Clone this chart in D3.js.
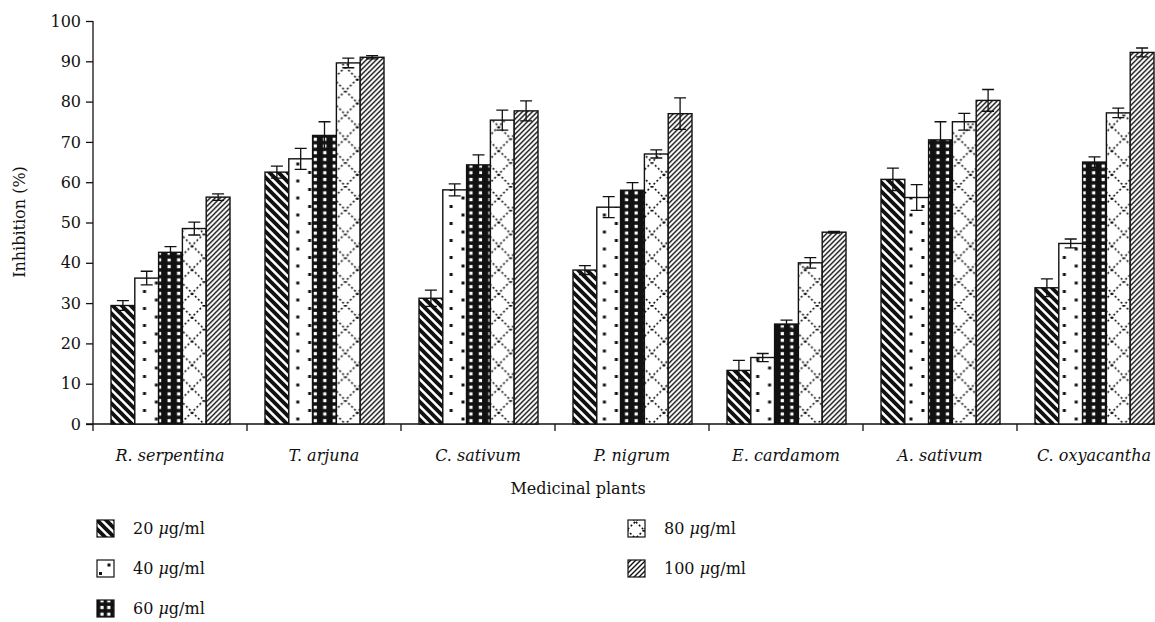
<!DOCTYPE html>
<html>
<head>
<meta charset="utf-8">
<script src="https://cdn.jsdelivr.net/npm/d3@7"></script>
<style>
body { margin: 0; background: #fff; }
</style>
</head>
<body>
<svg id="chart" width="1155" height="622"></svg>
<script>
// plants and concentrations
var plants = ['R. serpentina', 'T. arjuna', 'C. sativum', 'P. nigrum', 'E. cardamom', 'A. sativum', 'C. oxyacantha'];
var doses = ['20', '40', '60', '80', '100'];

// mean inhibition (%) per dose, one value per plant
var inh20  = [29.4, 62.5, 31.2, 38.2, 13.3, 60.7, 33.8];
var inh40  = [36.2, 65.8, 58.1, 53.8, 16.5, 56.2, 44.8];
var inh60  = [42.6, 71.6, 64.3, 58.0, 24.8, 70.5, 65.0];
var inh80  = [48.5, 89.6, 75.4, 67.0, 40.0, 75.0, 77.2];
var inh100 = [56.3, 91.0, 77.7, 77.0, 47.6, 80.3, 92.2];

// error bars (+/-)
var err20  = [1.2, 1.5, 2.0, 1.1, 2.5, 2.8, 2.2];
var err40  = [1.7, 2.6, 1.5, 2.6, 1.0, 3.2, 1.1];
var err60  = [1.4, 3.4, 2.5, 1.9, 1.0, 4.5, 1.3];
var err80  = [1.6, 1.2, 2.5, 1.0, 1.3, 2.1, 1.2];
var err100 = [0.8, 0.4, 2.5, 3.9, 0.2, 2.7, 1.1];

var yTicks = [0, 10, 20, 30, 40, 50, 60, 70, 80, 90, 100];

var values = [inh20, inh40, inh60, inh80, inh100];
var errors = [err20, err40, err60, err80, err100];

var rows = [];
plants.forEach(function(p, i){
	doses.forEach(function(d, j){
		rows.push({plant: p, pi: i, dose: d, value: values[j][i], err: errors[j][i]});
	});
});

var FONT = "DejaVu Serif";
var FS = '16px';

var svg = d3.select('#chart').style('font-family', FONT);

//scales
var x0 = d3.scaleBand().domain(plants).range([93, 1171]);
var x1 = d3.scaleBand().domain(doses).range([18, 137]);
var y = d3.scaleLinear().domain([0, 100]).range([424, 21]);
var bw = x1.bandwidth();

//patterns, one set per group so they line up with each bar
var defs = svg.append('defs');

function makePatterns(key, ox, oy, big){
	var p20 = defs.append('pattern').attr('id', 'pat20_' + key).attr('patternUnits', 'userSpaceOnUse')
		.attr('x', ox['20']).attr('y', oy).attr('width', 9).attr('height', 9);
	p20.append('rect').attr('width', 9).attr('height', 9).attr('fill', '#fff');
	p20.append('path').attr('d', 'M-3,-3 L12,12 M-3,6 L3,12 M6,-3 L12,3')
		.attr('stroke', '#111').attr('stroke-width', 3.8);

	var p40 = defs.append('pattern').attr('id', 'pat40_' + key).attr('patternUnits', 'userSpaceOnUse')
		.attr('x', ox['40']).attr('y', oy).attr('width', big).attr('height', 17);
	p40.append('rect').attr('width', big).attr('height', 17).attr('fill', '#fff');
	p40.append('rect').attr('x', big / 2 - 1.5).attr('y', 2).attr('width', 3).attr('height', 3).attr('fill', '#111');
	p40.append('rect').attr('x', -1.5).attr('y', 10.5).attr('width', 3).attr('height', 3).attr('fill', '#111');
	p40.append('rect').attr('x', big - 1.5).attr('y', 10.5).attr('width', 3).attr('height', 3).attr('fill', '#111');

	var w60 = big / 2.5;
	var p60 = defs.append('pattern').attr('id', 'pat60_' + key).attr('patternUnits', 'userSpaceOnUse')
		.attr('x', ox['60']).attr('y', oy).attr('width', w60).attr('height', 6.7);
	p60.append('rect').attr('width', w60).attr('height', 6.7).attr('fill', '#111');
	p60.append('rect').attr('x', 1.6).attr('y', 1.8).attr('width', 3.2).attr('height', 3.2).attr('fill', '#fff');

	var p80 = defs.append('pattern').attr('id', 'pat80_' + key).attr('patternUnits', 'userSpaceOnUse')
		.attr('x', ox['80']).attr('y', oy).attr('width', big).attr('height', big);
	p80.append('rect').attr('width', big).attr('height', big).attr('fill', '#fff');
	p80.append('path').attr('d', 'M0,0 L' + big + ',' + big + ' M' + big + ',0 L0,' + big)
		.attr('stroke', '#111').attr('stroke-width', 1.6).attr('stroke-dasharray', '2,2.2');

	var p100 = defs.append('pattern').attr('id', 'pat100_' + key).attr('patternUnits', 'userSpaceOnUse')
		.attr('x', ox['100']).attr('y', oy).attr('width', 5).attr('height', 5);
	p100.append('rect').attr('width', 5).attr('height', 5).attr('fill', '#fff');
	p100.append('path').attr('d', 'M-1,6 L6,-1 M-1,1 L1,-1 M4,6 L6,4')
		.attr('stroke', '#111').attr('stroke-width', 1.4);
}

plants.forEach(function(p, i){
	var ox = {};
	doses.forEach(function(d){ ox[d] = x0(p) + x1(d); });
	makePatterns(i, ox, y(0), bw);
});

//legend positions (box corner)
var legendPos = [[97, 520], [97, 560], [97, 600], [628, 520], [628, 560]];
var legendBox = 17;
var lox = {};
doses.forEach(function(d, i){ lox[d] = legendPos[i][0]; });
makePatterns('L', lox, 520, legendBox);

//axes
var yAxis = svg.append('g')
	.attr('transform', 'translate(93,0)')
	.call(d3.axisLeft(y).tickValues(yTicks).tickSize(7).tickPadding(5).tickSizeOuter(0));
yAxis.attr('font-family', null).attr('font-size', null);
yAxis.select('.domain').attr('d', 'M0,21 V431').attr('stroke', '#111').attr('stroke-width', 1.3);
yAxis.selectAll('.tick line').attr('stroke', '#111').attr('stroke-width', 1.3);
yAxis.selectAll('text').style('font-size', FS).style('font-family', FONT).attr('fill', '#111');

var xAxis = svg.append('g').attr('transform', 'translate(0,424)');
xAxis.append('line').attr('x1', 86).attr('x2', 1155).attr('y1', 0).attr('y2', 0)
	.attr('stroke', '#111').attr('stroke-width', 1.3);
xAxis.selectAll('.sep').data(plants.slice(1)).enter()
	.append('line')
	.attr('x1', function(d){ return x0(d); })
	.attr('x2', function(d){ return x0(d); })
	.attr('y1', 0).attr('y2', 7)
	.attr('stroke', '#111').attr('stroke-width', 1.3);
xAxis.selectAll('.cat').data(plants).enter()
	.append('text')
	.attr('x', function(d){ return x0(d) + x0.bandwidth() / 2; })
	.attr('y', 37)
	.style('text-anchor', 'middle')
	.style('font-style', 'italic')
	.style('font-size', FS)
	.style('font-family', FONT)
	.attr('fill', '#111')
	.text(function(d){ return d; });

//bars
var groups = svg.selectAll('.grp').data(plants).enter()
	.append('g')
	.attr('transform', function(d){ return 'translate(' + x0(d) + ',0)'; });

groups.selectAll('rect')
	.data(function(p){ return rows.filter(function(r){ return r.plant == p; }); })
	.enter()
	.append('rect')
	.attr('x', function(d){ return x1(d.dose); })
	.attr('width', bw)
	.attr('y', function(d){ return y(d.value); })
	.attr('height', function(d){ return y(0) - y(d.value); })
	.attr('fill', function(d){ return 'url(#pat' + d.dose + '_' + d.pi + ')'; })
	.attr('stroke', '#111')
	.attr('stroke-width', 1.4);

//error bars
var eb = groups.selectAll('.eb')
	.data(function(p){ return rows.filter(function(r){ return r.plant == p; }); })
	.enter()
	.append('g')
	.attr('transform', function(d){ return 'translate(' + (x1(d.dose) + bw / 2) + ',0)'; });

eb.append('path')
	.attr('d', function(d){
		var t = y(d.value + d.err), b = y(d.value - d.err);
		return 'M0,' + t + ' V' + b + ' M-6,' + t + ' H6 M-6,' + b + ' H6';
	})
	.attr('stroke', '#111')
	.attr('stroke-width', 1.3)
	.attr('fill', 'none');

//axis titles
svg.append('text')
	.attr('transform', 'translate(25,222) rotate(-90)')
	.style('text-anchor', 'middle')
	.style('font-size', FS)
	.style('font-family', FONT)
	.attr('fill', '#111')
	.text('Inhibition (%)');

svg.append('text')
	.attr('x', 578).attr('y', 494)
	.style('text-anchor', 'middle')
	.style('font-size', FS)
	.style('font-family', FONT)
	.attr('fill', '#111')
	.text('Medicinal plants');

//legend
var legend = svg.selectAll('.leg').data(doses).enter()
	.append('g')
	.attr('transform', function(d, i){ return 'translate(' + legendPos[i][0] + ',' + legendPos[i][1] + ')'; });

legend.append('rect')
	.attr('width', legendBox).attr('height', legendBox)
	.attr('fill', function(d){ return 'url(#pat' + d + '_L)'; })
	.attr('stroke', '#111').attr('stroke-width', 1.2);

var lt = legend.append('text')
	.attr('x', 36).attr('y', 14)
	.style('font-size', FS)
	.style('font-family', FONT)
	.attr('fill', '#111');
lt.append('tspan').text(function(d){ return d + ' '; });
lt.append('tspan').style('font-style', 'italic').text('\u03bc');
lt.append('tspan').text('g/ml');
</script>
</body>
</html>
